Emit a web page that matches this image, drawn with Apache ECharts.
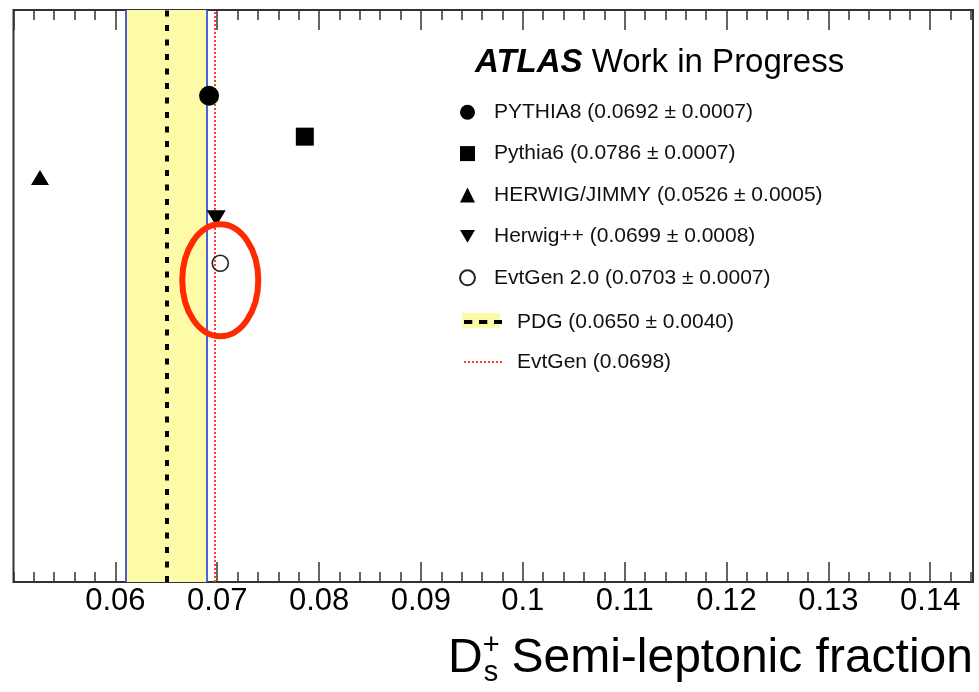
<!DOCTYPE html>
<html><head><meta charset="utf-8">
<script src="https://cdn.jsdelivr.net/npm/echarts@6/dist/echarts.min.js"></script>
<style>html,body{margin:0;padding:0;background:#fff}#c{width:979px;height:692px}</style>
</head><body><div id="c"></div>
<script>
// ---------- data ----------
const generators = ['PYTHIA8', 'Pythia6', 'HERWIG/JIMMY', 'Herwig++', 'EvtGen 2.0'];
const fractions = [0.0692, 0.0786, 0.0526, 0.0699, 0.0703];
const fractionErrors = [0.0007, 0.0007, 0.0005, 0.0008, 0.0007];
const rowPositions = [11.9, 10.9, 9.9, 8.9, 7.8];
const pdgValue = 0.0650;
const pdgError = 0.0040;
const evtgenValue = 0.0698;
const xRange = [0.05, 0.1442];
const yRange = [0, 14];
const highlightedIndex = 4;

// ---------- styles ----------
const FONT = '"Liberation Sans", Arial, Helvetica, sans-serif';
const DOWN_TRIANGLE = 'path://M0,0L20,0L10,17Z';
const markerStyles = [
  {symbol: 'circle', symbolSize: 20, itemStyle: {color: '#000', opacity: 1}},
  {symbol: 'rect', symbolSize: 18, itemStyle: {color: '#000', opacity: 1}},
  {symbol: 'triangle', symbolSize: [18, 15], itemStyle: {color: '#000', opacity: 1}},
  {symbol: DOWN_TRIANGLE, symbolSize: [19, 16], itemStyle: {color: '#000', opacity: 1}},
  {symbol: 'circle', symbolSize: 16, itemStyle: {color: 'rgba(0,0,0,0)', borderColor: '#222', borderWidth: 1.6, opacity: 1}}
];
const BAND = '#fdfaa8', BLUE = '#3a4fd8', RED = '#ff3b30';

const fmt = v => v.toFixed(4);
const genNames = generators.map((g, i) => `${g} (${fmt(fractions[i])} ± ${fmt(fractionErrors[i])})`);
const pdgName = `PDG (${fmt(pdgValue)} ± ${fmt(pdgError)})`;
const evtName = `EvtGen (${fmt(evtgenValue)})`;

const chart = echarts.init(document.getElementById('c'), null, {renderer: 'canvas'});

const tickAxis = (pos, interval, len, showLabel) => ({
  type: 'value', position: pos, min: xRange[0], max: xRange[1], interval: interval,
  axisLine: {show: false},
  axisTick: {show: true, inside: true, length: len, lineStyle: {color: '#333', width: 1.5}},
  axisLabel: showLabel ? {show: true, fontSize: 31, fontFamily: FONT, color: '#000', margin: 4,
    showMinLabel: false, showMaxLabel: false} : {show: false},
  splitLine: {show: false}
});

const mainX = tickAxis('bottom', 0.01, 20, true);
mainX.name = '{D|D}{sup|+}{sub|s}{t| Semi-leptonic fraction}';
mainX.nameLocation = 'end';
mainX.nameGap = 0;
mainX.nameTextStyle = {
  align: 'right', verticalAlign: 'top', padding: [49, 0, 0, 0],
  rich: {
    D: {fontFamily: FONT, fontSize: 48, lineHeight: 56, align: 'left', color: '#000'},
    sup: {fontFamily: FONT, fontSize: 29, lineHeight: 17, verticalAlign: 'top', align: 'left', width: 1, color: '#000'},
    sub: {fontFamily: FONT, fontSize: 29, lineHeight: 20, verticalAlign: 'bottom', align: 'left', color: '#000'},
    t: {fontFamily: FONT, fontSize: 48, lineHeight: 56, align: 'left', color: '#000'}
  }
};

const series = [];
series.push({
  name: pdgName, type: 'line', data: [], symbol: 'none', silent: true,
  lineStyle: {color: '#000', width: 4, type: [6, 8.5]},
  markArea: {silent: true, itemStyle: {color: BAND},
    data: [[{xAxis: pdgValue - pdgError}, {xAxis: pdgValue + pdgError}]]},
  markLine: {silent: true, precision: 6, symbol: ['none', 'none'], label: {show: false}, animation: false,
    data: [
      {xAxis: pdgValue - pdgError, lineStyle: {color: BLUE, width: 1.8, type: 'solid', opacity: 1}},
      {xAxis: pdgValue + pdgError, lineStyle: {color: BLUE, width: 1.8, type: 'solid', opacity: 1}},
      {xAxis: pdgValue, lineStyle: {color: '#000', width: 4, type: [6, 8.5], opacity: 1}}
    ]}
});
series.push({
  name: evtName, type: 'line', data: [], symbol: 'none', silent: true,
  lineStyle: {color: RED, width: 2, type: [2, 2]},
  markLine: {silent: true, precision: 6, symbol: ['none', 'none'], label: {show: false}, animation: false,
    data: [{xAxis: evtgenValue, lineStyle: {color: RED, width: 2, type: [2, 2], opacity: 1}}]}
});
generators.forEach((g, i) => {
  series.push(Object.assign({
    name: genNames[i], type: 'scatter', silent: true, z: 6,
    data: [[fractions[i], rowPositions[i]]]
  }, markerStyles[i]));
});
// highlight ellipse around the EvtGen 2.0 point
series.push({
  type: 'custom', silent: true, z: 7,
  data: [[fractions[highlightedIndex], rowPositions[highlightedIndex]]],
  renderItem: (params, api) => {
    const c = api.coord([api.value(0), api.value(1)]);
    return {type: 'ellipse', shape: {cx: c[0], cy: c[1] + 17, rx: 38, ry: 56},
      style: {fill: 'none', stroke: '#ff2a00', lineWidth: 6}};
  }
});

chart.setOption({
  animation: false,
  backgroundColor: '#fff',
  title: {
    text: '{a|ATLAS}{b| Work in Progress}', left: 475, top: 46, padding: 0,
    textStyle: {rich: {
      a: {fontFamily: FONT, fontSize: 33, fontWeight: 'bold', fontStyle: 'italic', color: '#000'},
      b: {fontFamily: FONT, fontSize: 33, fontWeight: 'normal', color: '#000'}
    }}
  },
  graphic: [{type: 'rect', z: 1, silent: true, shape: {x: 462, y: 313, width: 38, height: 15}, style: {fill: BAND}}],
  legend: [
    {
      orient: 'vertical', left: 459, top: 101.7, padding: 0, z: 5,
      itemWidth: 15, itemHeight: 15, itemGap: 20.4, selectedMode: false,
      textStyle: {fontFamily: FONT, fontSize: 21, lineHeight: 20, color: '#111', padding: [0, 0, 0, 14]},
      data: genNames
    },
    {
      orient: 'vertical', left: 462, top: 311.5, padding: 0, z: 5,
      itemWidth: 38, itemHeight: 15, itemGap: 19, selectedMode: false,
      textStyle: {fontFamily: FONT, fontSize: 21, lineHeight: 20, color: '#111', padding: [0, 0, 0, 10]},
      data: [
        {name: pdgName, itemStyle: {color: 'rgba(0,0,0,0)', borderWidth: 0}, lineStyle: {color: '#000', width: 4, type: [8.3, 6.7]}},
        {name: evtName, itemStyle: {color: 'rgba(0,0,0,0)', borderWidth: 0}, lineStyle: {color: RED, width: 2, type: [2, 2]}}
      ]
    }
  ],
  grid: {left: 13.5, top: 10, width: 959.5, height: 572, show: true, borderColor: '#333', borderWidth: 2, backgroundColor: 'rgba(0,0,0,0)', containLabel: false},
  xAxis: [
    mainX,
    tickAxis('bottom', 0.002, 10, false),
    tickAxis('top', 0.01, 20, false),
    tickAxis('top', 0.002, 10, false)
  ],
  yAxis: {type: 'value', min: yRange[0], max: yRange[1], show: false},
  series: series
});
</script></body></html>
